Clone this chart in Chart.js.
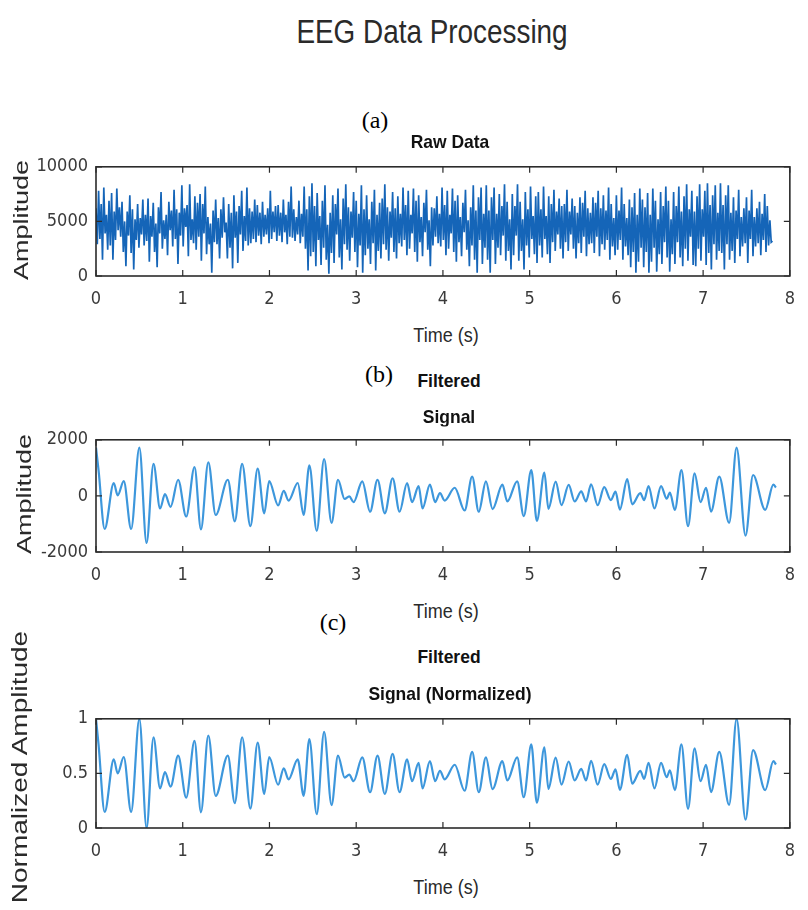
<html>
<head>
<meta charset="utf-8">
<style>
  body { margin: 0; background: #fff; }
  #fig { position: relative; width: 808px; height: 910px; overflow: hidden; }
  .box { position: absolute; left: 0; width: 808px; }
  .t { position: absolute; white-space: nowrap; line-height: 1; font-family: 'Liberation Sans', Arial, sans-serif; color: #2a2a2a; pointer-events: none; }
  .b { font-weight: bold; color: #111; }
  .lab { font-family: 'Liberation Serif', serif; color: #000; }
</style>
</head>

<body>
<div id="fig">
  <div class="box" style="top:148px; height:158px"><canvas id="rawChart"></canvas></div>
  <div class="box" style="top:421px; height:161px"><canvas id="filtChart"></canvas></div>
  <div class="box" style="top:700px; height:158px"><canvas id="normChart"></canvas></div>

  <div class="t" style="left:432px; top:31px; font-size:34px; transform:translate(-50%,-50%) scaleX(0.82)">EEG Data Processing</div>

  <div class="t lab" style="left:375px; top:120px; font-size:24px; transform:translate(-50%,-50%)">(a)</div>
  <div class="t b" style="left:450px; top:141px; font-size:19px; transform:translate(-50%,-50%) scaleX(0.92)">Raw Data</div>
  <div class="t" style="left:21px; top:220px; font-size:27px; transform:translate(-50%,-50%) rotate(-90deg) scaleY(0.78)">Amplitude</div>
  <div class="t" style="left:446px; top:335px; font-size:20px; transform:translate(-50%,-50%) scaleX(0.9)">Time (s)</div>

  <div class="t lab" style="left:379px; top:374px; font-size:24px; transform:translate(-50%,-50%)">(b)</div>
  <div class="t b" style="left:449px; top:380px; font-size:19px; transform:translate(-50%,-50%) scaleX(0.92)">Filtered</div>
  <div class="t b" style="left:449px; top:416px; font-size:19px; transform:translate(-50%,-50%) scaleX(0.92)">Signal</div>
  <div class="t" style="left:24px; top:494px; font-size:27px; transform:translate(-50%,-50%) rotate(-90deg) scaleY(0.78)">Amplitude</div>
  <div class="t" style="left:446px; top:611px; font-size:20px; transform:translate(-50%,-50%) scaleX(0.9)">Time (s)</div>

  <div class="t lab" style="left:333px; top:622px; font-size:24px; transform:translate(-50%,-50%)">(c)</div>
  <div class="t b" style="left:449px; top:656px; font-size:19px; transform:translate(-50%,-50%) scaleX(0.92)">Filtered</div>
  <div class="t b" style="left:450px; top:693px; font-size:19px; transform:translate(-50%,-50%) scaleX(0.92)">Signal (Normalized)</div>
  <div class="t" style="left:20px; top:767px; font-size:28px; transform:translate(-50%,-50%) rotate(-90deg) scaleY(0.76)">Normalized Amplitude</div>
  <div class="t" style="left:446px; top:887px; font-size:20px; transform:translate(-50%,-50%) scaleX(0.9)">Time (s)</div>
</div>

<script src="https://cdn.jsdelivr.net/npm/chart.js@4.4.1/dist/chart.umd.min.js"></script>
<script>
// raw EEG samples, one every 0.015 s (by rows of 0.3 s)
const RAW_DT = 0.015
const rawAmp = [
  6200, 2900, 7800, 3400, 6600, 1500, 8100, 3900, 5600, 2400, 6900, 2800, 7600, 1500, 5900, 3300, 8000, 4200, 6300, 3600,
  6800, 2200, 5000, 900, 5900, 3700, 7400, 2100, 6100, 600, 5200, 3300, 6600, 2600, 5300, 3800, 7000, 2800, 5600, 3200,
  7100, 1300, 5500, 3600, 6700, 2200, 4800, 800, 6300, 3900, 7700, 2500, 5100, 3400, 5600, 1900, 6800, 4200, 6000, 2700,
  7900, 3400, 6100, 1100, 5800, 3700, 8300, 2700, 6200, 4500, 6500, 1800, 8400, 3300, 5200, 3000, 7300, 2400, 6700, 3600,
  7500, 1400, 6600, 3900, 8200, 2000, 5400, 2900, 4800, 300, 6000, 3100, 7000, 2900, 5300, 1600, 6100, 3500, 7200, 4000,
  4900, 1600, 6600, 2600, 5800, 700, 7400, 3500, 5900, 1200, 6400, 3800, 7800, 2300, 5500, 3200, 8100, 2800, 6200, 3000,
  5900, 3400, 7000, 3100, 6500, 3700, 5800, 2900, 6800, 3600, 5600, 3800, 6200, 3000, 7800, 3400, 5900, 4000, 6400, 3200,
  6500, 3700, 5800, 3100, 7000, 4000, 5600, 2900, 6800, 3600, 8200, 3500, 6100, 3200, 5400, 3800, 6900, 3000, 5700, 3600,
  8200, 2500, 6100, 500, 7300, 1800, 8500, 2200, 6400, 900, 7600, 3300, 5500, 1000, 6900, 2600, 8300, 1500, 4700, 200,
  5800, 2100, 7400, 1200, 6600, 3800, 8000, 1700, 5200, 600, 7100, 2900, 8400, 2400, 6300, 1400, 5900, 3500, 7700, 2200,
  6900, 800, 5700, 2800, 8300, 300, 6100, 1900, 7400, 2500, 5200, 1100, 6800, 3000, 7900, 500, 5600, 2300, 6700, 1600,
  7100, 2900, 8400, 2400, 6300, 1400, 5900, 3500, 7700, 2200, 6200, 1600, 7300, 3000, 5700, 2700, 8100, 3300, 6500, 1900,
  7800, 2500, 5600, 3900, 8000, 2200, 6900, 1300, 7400, 3100, 5400, 1800, 6700, 4000, 7900, 2400, 5100, 900, 6300, 2800,
  6200, 3600, 7300, 3000, 5700, 2700, 8100, 3300, 6500, 1900, 7800, 2500, 5600, 3900, 8000, 2200, 6900, 1300, 7400, 3100,
  5400, 1800, 6700, 4000, 7900, 2400, 5100, 900, 6300, 2800, 8300, 1500, 6000, 300, 7200, 3300, 8100, 1100, 5700, 2600,
  8300, 1500, 6000, 300, 7200, 3300, 8100, 1100, 5700, 2600, 7500, 1900, 6400, 3700, 8400, 1400, 6800, 2300, 5200, 600,
  7500, 1900, 6400, 3700, 8400, 1400, 6800, 2300, 5200, 600, 7700, 2800, 6100, 1700, 8200, 3400, 5500, 2000, 7300, 1200,
  7700, 2800, 6100, 1700, 8200, 3400, 5500, 2000, 7300, 1200, 6600, 3100, 7900, 2300, 5900, 3800, 7100, 2500, 6400, 1600,
  6600, 3100, 7900, 2300, 5900, 3800, 7100, 2500, 6400, 1600, 5800, 3000, 7200, 2100, 6700, 3600, 7800, 1800, 6200, 2900,
  5800, 3000, 7200, 2100, 6700, 3600, 7800, 1800, 6200, 2900, 7400, 2400, 6000, 3300, 8100, 1500, 6600, 2700, 5300, 1900,
  7400, 2400, 6000, 3300, 8100, 1500, 6600, 2700, 5300, 1900, 7000, 800, 6300, 2200, 7600, 300, 5600, 1300, 8000, 2600,
  7000, 800, 6300, 2200, 7600, 300, 5600, 1300, 8000, 2600, 6900, 400, 5200, 2000, 7700, 1100, 6400, 3100, 8200, 1700,
  6900, 400, 5200, 2000, 7700, 1100, 6400, 3100, 8200, 1700, 5900, 900, 7300, 2500, 8400, 1400, 6100, 3600, 7800, 1000,
  5900, 900, 7300, 2500, 8400, 1400, 6100, 3600, 7800, 1000, 8500, 2100, 6500, 600, 7400, 2900, 8300, 1500, 5800, 2300,
  8500, 2100, 6500, 600, 7400, 2900, 8300, 1500, 5800, 2300, 7200, 1200, 6000, 3400, 7900, 1800, 5400, 2700, 6200, 3000,
  7200, 1200, 6000, 3400, 7900, 1800, 5400, 2700, 6200, 3000, 6800, 1900, 5700, 3300, 7500, 2200, 6400, 2800, 5100, 3100,
  3200
]

const filtTime = [
  0.000, 0.030, 0.100, 0.205, 0.250, 0.320, 0.405, 0.500, 0.583, 0.663,
  0.739, 0.795, 0.860, 0.947, 1.040, 1.136, 1.210, 1.295, 1.380, 1.520,
  1.600, 1.685, 1.780, 1.864, 1.940, 1.997, 2.100, 2.165, 2.220, 2.326,
  2.394, 2.460, 2.545, 2.630, 2.716, 2.790, 2.867, 2.920, 2.970, 3.070,
  3.160, 3.246, 3.330, 3.420, 3.500, 3.587, 3.644, 3.720, 3.765, 3.850,
  3.910, 3.966, 4.020, 4.136, 4.250, 4.337, 4.413, 4.496, 4.572, 4.686,
  4.742, 4.856, 4.932, 5.019, 5.083, 5.170, 5.216, 5.300, 5.367, 5.450,
  5.519, 5.595, 5.650, 5.708, 5.784, 5.860, 5.936, 5.990, 6.040, 6.125,
  6.182, 6.276, 6.320, 6.371, 6.439, 6.515, 6.580, 6.617, 6.674, 6.750,
  6.826, 6.902, 6.970, 7.034, 7.091, 7.186, 7.300, 7.386, 7.489, 7.576,
  7.716, 7.810, 7.840
]
const filtAmp = [
  1720, 900, -1180, 460, 20, 530, -1180, 1720, -1680, 1145,
  -450, 60, -390, 575, -735, 1030, -1190, 1200, -680, 575,
  -905, 1145, -1075, 975, -620, 530, -335, 177, -165, 460,
  -680, 1090, -1250, 1315, -965, 575, -110, -20, -222, 520,
  -565, 575, -620, 630, -565, 460, -222, 350, -450, 405,
  -222, 100, -165, 290, -520, 690, -565, 520, -470, 400,
  -200, 520, -720, 920, -890, 830, -460, 510, -330, 390,
  -200, 160, -200, 415, -330, 310, -150, 150, -490, 600,
  -300, 100, -150, 350, -450, 350, -100, 120, -500, 920,
  -1080, 800, -220, 290, -560, 690, -960, 1720, -1420, 745,
  -500, 400, 300
]
const normAmp = [
  1.000, 0.759, 0.147, 0.629, 0.500, 0.650, 0.147, 1.000, 0.000, 0.831,
  0.362, 0.512, 0.379, 0.663, 0.278, 0.797, 0.144, 0.847, 0.294, 0.663,
  0.228, 0.831, 0.178, 0.781, 0.312, 0.650, 0.396, 0.546, 0.446, 0.629,
  0.294, 0.815, 0.126, 0.881, 0.210, 0.663, 0.462, 0.488, 0.429, 0.647,
  0.328, 0.663, 0.312, 0.679, 0.328, 0.629, 0.429, 0.597, 0.362, 0.613,
  0.429, 0.524, 0.446, 0.579, 0.341, 0.697, 0.328, 0.647, 0.356, 0.612,
  0.435, 0.647, 0.282, 0.765, 0.232, 0.738, 0.359, 0.644, 0.397, 0.609,
  0.435, 0.541, 0.435, 0.616, 0.397, 0.585, 0.450, 0.538, 0.350, 0.671,
  0.406, 0.524, 0.450, 0.597, 0.362, 0.597, 0.465, 0.529, 0.347, 0.765,
  0.176, 0.729, 0.429, 0.579, 0.329, 0.697, 0.212, 1.000, 0.076, 0.713,
  0.347, 0.612, 0.582
]

const timeTicks = [0, 1, 2, 3, 4, 5, 6, 7, 8]
const rawTicks = [0, 5000, 10000]
const filtTicks = [-2000, 0, 2000]
const normTicks = [0, 0.5, 1]

const tickFont = "'DejaVu Sans Condensed', 'Liberation Sans', sans-serif"

// matlab style frame: full box with inward ticks
const boxPlugin = {
  id: 'matlabBox',
  afterDraw(chart) {
    const { ctx, chartArea: a, scales: { x, y } } = chart
    ctx.save()
    ctx.strokeStyle = '#2b2b2b'
    ctx.lineWidth = 1.6
    ctx.strokeRect(a.left, a.top, a.right - a.left, a.bottom - a.top)
    ctx.lineWidth = 1.2
    ctx.beginPath()
    x.ticks.forEach(t => {
      let px = x.getPixelForValue(t.value)
      ctx.moveTo(px, a.bottom); ctx.lineTo(px, a.bottom - 6)
      ctx.moveTo(px, a.top); ctx.lineTo(px, a.top + 6)
    })
    y.ticks.forEach(t => {
      let py = y.getPixelForValue(t.value)
      ctx.moveTo(a.left, py); ctx.lineTo(a.left + 6, py)
      ctx.moveTo(a.right, py); ctx.lineTo(a.right - 6, py)
    })
    ctx.stroke()
    ctx.restore()
  }
}

function makeScales(yTicks) {
  return {
    x: {
      type: 'linear', min: timeTicks[0], max: timeTicks[timeTicks.length - 1],
      afterBuildTicks: s => { s.ticks = timeTicks.map(v => ({ value: v })) },
      ticks: { autoSkip: false, maxRotation: 0, padding: 13, color: '#3a3a3a',
               font: { family: tickFont, size: 18 }, callback: v => String(v) },
      grid: { display: false, drawTicks: false },
      border: { display: false },
      afterFit: s => { s.height = 30 }
    },
    y: {
      min: yTicks[0], max: yTicks[yTicks.length - 1],
      afterBuildTicks: s => { s.ticks = yTicks.map(v => ({ value: v })) },
      ticks: { padding: 8, color: '#3a3a3a',
               font: { family: tickFont, size: 18 }, callback: v => String(v) },
      grid: { display: false, drawTicks: false },
      border: { display: false },
      afterFit: s => { s.width = 96 }
    }
  }
}

function renderChart(elId, points, yTicks, style) {
  const ctx = document.getElementById(elId).getContext('2d')
  return new Chart(ctx, {
    type: 'line',
    data: {
      datasets: [Object.assign({
        data: points,
        pointRadius: 0,
        fill: false,
      }, style)],
    },
    options: {
      responsive: true,
      maintainAspectRatio: false,
      animation: false,
      layout: { padding: { left: 0, right: 7, top: 14, bottom: 0 } },
      plugins: { legend: { display: false }, tooltip: { enabled: false } },
      scales: makeScales(yTicks),
    },
    plugins: [boxPlugin],
  })
}

let rawPoints = rawAmp.map((v, i) => ({ x: i * RAW_DT, y: v }))
let filtPoints = filtTime.map((t, i) => ({ x: t, y: filtAmp[i] }))
let normPoints = filtTime.map((t, i) => ({ x: t, y: normAmp[i] }))

renderChart('rawChart', rawPoints, rawTicks, { borderColor: '#1565b8', borderWidth: 1.7, tension: 0 })
renderChart('filtChart', filtPoints, filtTicks, { borderColor: '#3d97dc', borderWidth: 2.2, cubicInterpolationMode: 'monotone' })
renderChart('normChart', normPoints, normTicks, { borderColor: '#3d97dc', borderWidth: 2.2, cubicInterpolationMode: 'monotone' })
</script>
</body>
</html>
